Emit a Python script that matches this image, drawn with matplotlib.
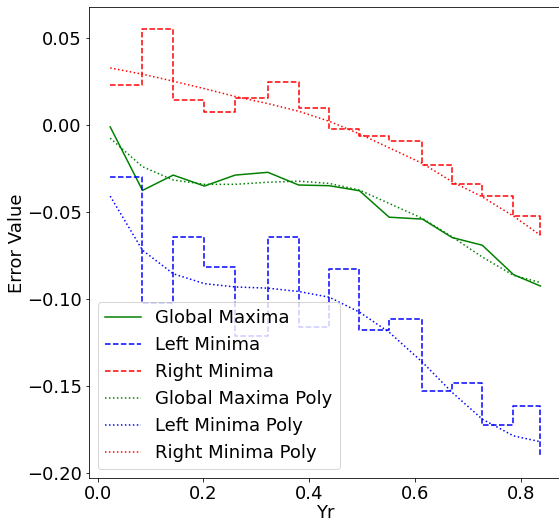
import numpy as np
import matplotlib
matplotlib.use('Agg')
import matplotlib.pyplot as plt

yr = [0.024, 0.085, 0.143, 0.202, 0.260, 0.322, 0.380, 0.438,
      0.495, 0.551, 0.614, 0.670, 0.727, 0.786, 0.837]

global_max = [-0.0010, -0.0375, -0.0287, -0.0350, -0.0287, -0.0271, -0.0344, -0.0348,
              -0.0377, -0.0529, -0.0540, -0.0646, -0.0690, -0.0859, -0.0925]
left_min = [-0.0296, -0.1021, -0.0640, -0.0817, -0.1213, -0.0644, -0.1160, -0.0827,
            -0.1177, -0.1115, -0.1528, -0.1484, -0.1721, -0.1615, -0.1907]
right_min = [0.0231, 0.0554, 0.0142, 0.0078, 0.0157, 0.0248, 0.0096, -0.0021,
             -0.0063, -0.0090, -0.0229, -0.0340, -0.0406, -0.0521, -0.0633]

global_max_poly = [-0.0075, -0.0239, -0.0315, -0.0340, -0.0340, -0.0328, -0.0322, -0.0335,
                   -0.0373, -0.0450, -0.0536, -0.0642, -0.0758, -0.0863, -0.0905]
left_min_poly = [-0.0408, -0.0719, -0.0854, -0.0911, -0.0930, -0.0937, -0.0956, -0.0989,
                 -0.1075, -0.1190, -0.1363, -0.1536, -0.1690, -0.1786, -0.1820]
right_min_poly = [0.0329, 0.0293, 0.0253, 0.0210, 0.0165, 0.0124, 0.0080, 0.0022,
                  -0.0050, -0.0130, -0.0220, -0.0325, -0.0412, -0.0523, -0.0633]

plt.rcParams['font.size'] = 18

# reference looks like a 72 dpi render, right spine falls just off the image
fig = plt.figure(figsize=(559 / 72, 518 / 72), dpi=72)
ax = fig.add_axes([88.7 / 559, (518 - 478.3) / 518, (562 - 88.7) / 559, (478.3 - 7.4) / 518])

ax.plot(yr, global_max, color='green', label='Global Maxima')
ax.step(yr, left_min, where='post', color='blue', ls='--', label='Left Minima')
ax.step(yr, right_min, where='post', color='red', ls='--', label='Right Minima')
ax.plot(yr, global_max_poly, color='green', ls=':', label='Global Maxima Poly')
ax.plot(yr, left_min_poly, color='blue', ls=':', label='Left Minima Poly')
ax.plot(yr, right_min_poly, color='red', ls=':', label='Right Minima Poly')

ax.set_xlabel('Yr', labelpad=0.5)
ax.set_ylabel('Error Value', labelpad=1)
ax.set_xticks([0.0, 0.2, 0.4, 0.6, 0.8])
ax.set_yticks([0.05, 0.0, -0.05, -0.10, -0.15, -0.20])
ax.legend(loc='lower left')

fig.savefig('out.png', dpi=72)
